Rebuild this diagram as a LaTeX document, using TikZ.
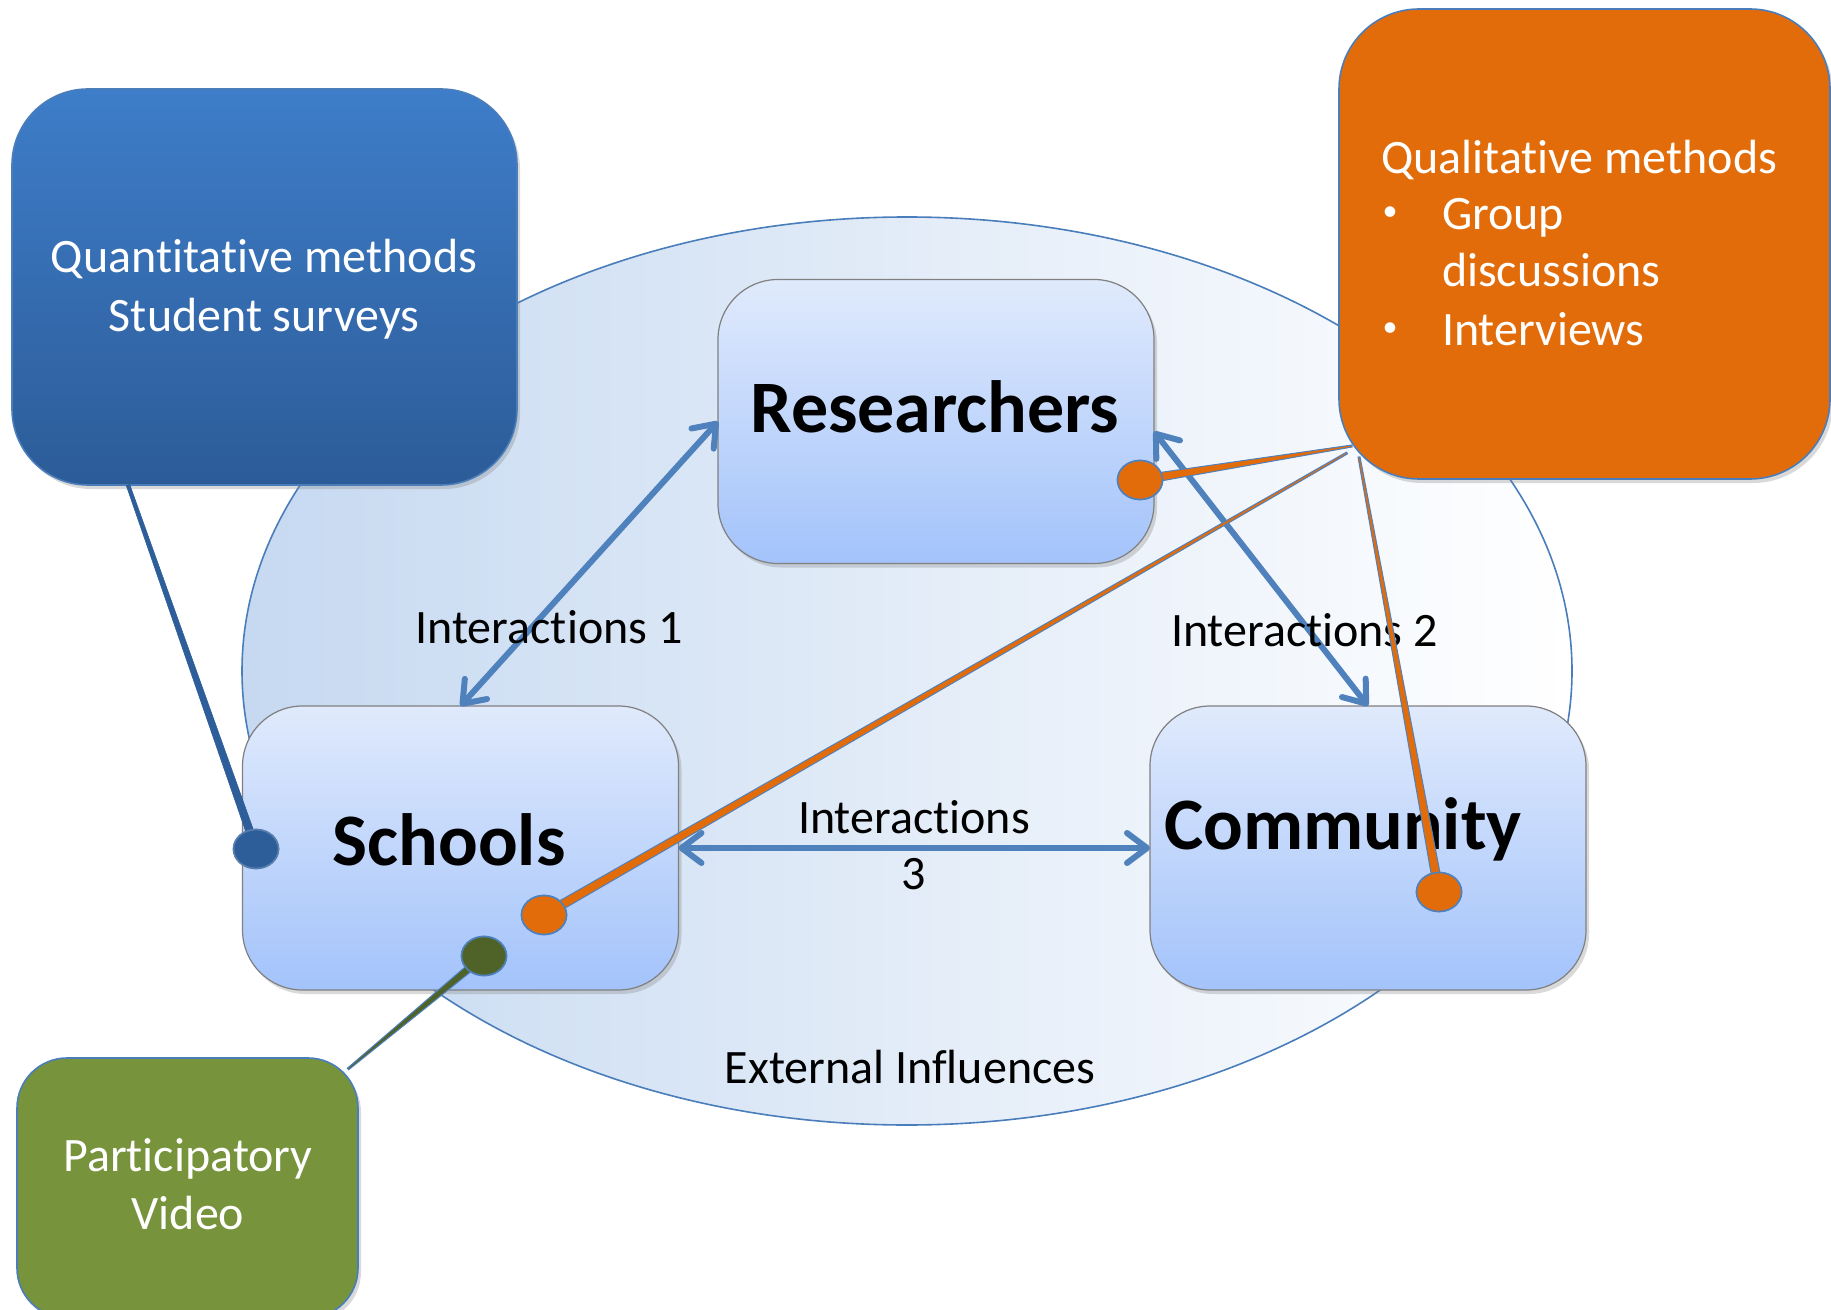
\documentclass[tikz,border=0pt]{standalone}
\usepackage{fontspec}
\setmainfont{Carlito}[Ligatures=CommonOff]
\usetikzlibrary{arrows.meta,calc,shadows,shapes.geometric}

\definecolor{qblueT}{HTML}{3E7DC9}
\definecolor{qblueB}{HTML}{2C5C98}
\definecolor{borderblue}{HTML}{4A7EBB}
\definecolor{qorange}{HTML}{E36C0A}
\definecolor{pgreen}{HTML}{77933C}
\definecolor{dgreen}{HTML}{4F6228}
\definecolor{boxT}{HTML}{E0EAFC}
\definecolor{boxB}{HTML}{A3C3FB}
\definecolor{ellL}{HTML}{C6D9F1}
\definecolor{arrowblue}{HTML}{4F81BD}
\definecolor{dotblue}{HTML}{2E5E99}

\newcommand{\mywedge}[5]{%
  \filldraw[#5] ($(#1)!#3!90:(#2)$) -- ($(#2)!#4!-90:(#1)$) -- ($(#2)!#4!90:(#1)$) -- ($(#1)!#3!-90:(#2)$) -- cycle;}

\begin{document}
\begin{tikzpicture}[x=0.5pt,y=-0.5pt,
  every node/.style={inner sep=0pt, outer sep=0pt},
  innerbox/.style={rectangle, rounded corners=30pt, minimum width=218pt, minimum height=142pt,
    draw=black!50, line width=0.6pt, top color=boxT, bottom color=boxB,
    drop shadow={opacity=0.3, shadow xshift=1.5pt, shadow yshift=-2pt}},
  methodbox/.style={rectangle, draw=borderblue, line width=0.8pt,
    drop shadow={opacity=0.3, shadow xshift=1.5pt, shadow yshift=-2pt}},
  wt/.style={text=white, font=\fontsize{24}{29}\selectfont},
  bullet/.style={text=white, font=\fontsize{15}{18}\selectfont},
  bt/.style={text=black, font=\fontsize{24}{29}\selectfont},
  big/.style={text=black, font=\fontsize{37}{44}\selectfont\bfseries},
  ia/.style={draw=arrowblue, line cap=round, line width=3pt,
    arrows={Straight Barb[length=10pt,width=15pt,round]-Straight Barb[length=10pt,width=15pt,round]}},
  dot/.style={ellipse, minimum width=22.5pt, minimum height=19.5pt, draw=arrowblue, line width=0.8pt},
]
\useasboundingbox (0,0) rectangle (1831,1310);
\clip (0,0) rectangle (1831,1310);

% external influences ellipse
\node[ellipse, minimum width=665pt, minimum height=454pt, draw=borderblue, line width=0.8pt,
      left color=ellL, right color=white] (ext) at (907,671) {};

% method boxes
\node[methodbox, rounded corners=38pt, minimum width=252.5pt, minimum height=198pt,
      top color=qblueT, bottom color=qblueB] (quant) at (264.5,287) {};
\node[methodbox, rounded corners=40pt, minimum width=245.5pt, minimum height=235pt,
      fill=qorange] (qual) at (1584.5,244) {};
\node[methodbox, rounded corners=25pt, minimum width=170.5pt, minimum height=130pt,
      fill=pgreen] (part) at (187.5,1188) {};

% method texts
\node[wt, anchor=base] (quantA) at (264,273) {Quantitative methods};
\node[wt, anchor=base] (quantB) at (264,332) {Student surveys};
\node[wt, anchor=base west] (qualA) at (1381,174) {Qualitative methods};
\node[bullet] (bulA) at (1390,214) {•};
\node[wt, anchor=base west] (qualB) at (1442,230) {Group};
\node[wt, anchor=base west] (qualC) at (1442,287) {discussions};
\node[bullet] (bulB) at (1390,330) {•};
\node[wt, anchor=base west] (qualD) at (1442,346) {Interviews};
\node[wt, anchor=base] (partA) at (188,1171) {Participatory};
\node[wt, anchor=base] (partB) at (188,1229) {Video};

% actor boxes
\node[innerbox] (res) at (936,421.5) {};
\node[innerbox] (sch) at (460.5,848) {};
\node[innerbox] (com) at (1368,848) {};
\node[big, anchor=base] (resT) at (935,433) {Researchers};
\node[big, anchor=base] (schT) at (449,865) {Schools};
\node[big, anchor=base] (comT) at (1343,849) {Community};

% interaction arrows
\draw[ia] (sch.north) -- (res.west);
\draw[ia] ([yshift=-5pt]res.east) -- (com.north);
\draw[ia] (sch.east) -- (com.west);

% labels
\node[bt, anchor=base] (i1) at (549,643) {Interactions 1};
\node[bt, anchor=base west] (i2) at (1171,646) {Interactions 2};
\node[bt, anchor=base] (i3a) at (914,833) {Interactions};
\node[bt, anchor=base] (i3b) at (914,889) {3};
\node[bt, anchor=base] (extT) at (910,1083) {External Influences};

% method connectors
\coordinate (qs) at (128,485);
\coordinate (os1) at (1352,446);
\coordinate (os2) at (1347,453);
\coordinate (os3) at (1359,457);
\coordinate (ps) at (348,1069);

\node[dot, fill=dotblue, draw=dotblue!80!white] (dq) at (256,849) {};
\node[dot, fill=qorange] (do1) at (1140,480) {};
\node[dot, fill=qorange] (do2) at (544,915) {};
\node[dot, fill=qorange] (do3) at (1439,892) {};
\node[dot, fill=dgreen] (dp) at (484,956) {};

\mywedge{qs}{dq.center}{0.9pt}{2pt}{fill=dotblue, draw=dotblue, line width=0.3pt}
\mywedge{os1}{do1.center}{0.5pt}{2.3pt}{fill=qorange, draw=arrowblue, line width=0.5pt}
\mywedge{os2}{do2.center}{0.5pt}{2.3pt}{fill=qorange, draw=arrowblue, line width=0.5pt}
\mywedge{os3}{do3.center}{0.5pt}{2.3pt}{fill=qorange, draw=arrowblue, line width=0.5pt}
\mywedge{ps}{dp.center}{0.5pt}{2pt}{fill=dgreen, draw=arrowblue, line width=0.5pt}

% redraw dots on top of wedges
\node[dot, fill=dotblue, draw=dotblue!80!white] at (dq) {};
\node[dot, fill=qorange] at (do1) {};
\node[dot, fill=qorange] at (do2) {};
\node[dot, fill=qorange] at (do3) {};
\node[dot, fill=dgreen] at (dp) {};
\end{tikzpicture}
\end{document}
